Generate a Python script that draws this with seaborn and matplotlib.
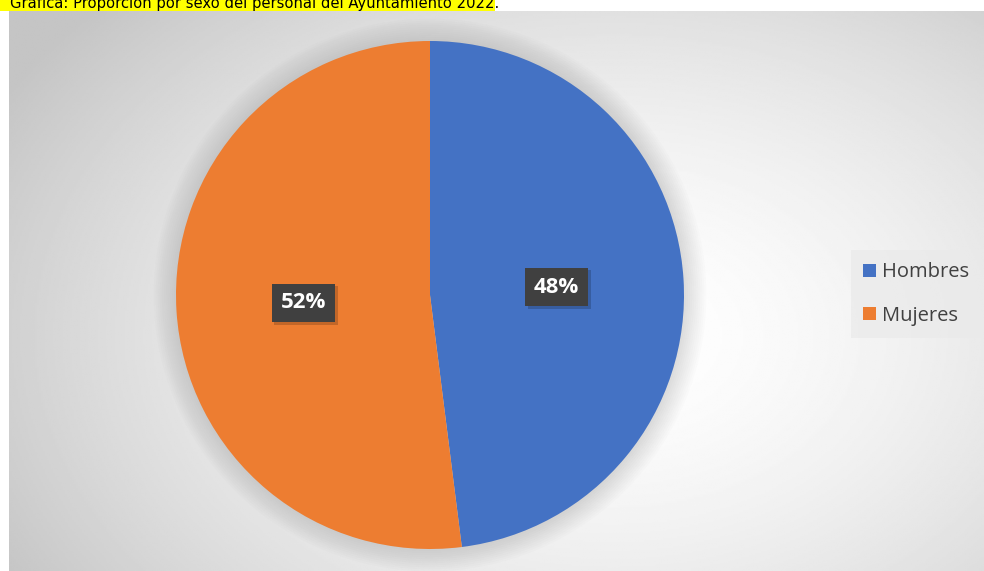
import matplotlib
matplotlib.use("Agg")
import matplotlib.pyplot as plt
from matplotlib.patches import Rectangle, Patch, Circle
import matplotlib.patheffects as pe
import numpy as np
import seaborn as sns

sns.set_style("white")
plt.rcParams["font.family"] = ["Open Sans", "DejaVu Sans"]

# datos
categorias = ["Hombres", "Mujeres"]
porcentajes = [48, 52]
colores = ["#4472C4", "#ED7D31"]
titulo = "Gráfica: Proporción por sexo del personal del Ayuntamiento 2022."

W, H = 984, 571
fig = plt.figure(figsize=(W / 100, H / 100), dpi=100)
fig.patch.set_facecolor("white")

# fondo con degradado radial
bg = fig.add_axes([9 / W, 0, (W - 9) / W, 560 / H])
yy, xx = np.mgrid[0:1:300j, 0:1:500j]
d = np.sqrt(((xx - 0.62) / 0.62) ** 2 + ((yy - 0.42) / 0.75) ** 2)
grad = np.clip(1.0 - 0.18 * d ** 1.6, 0.77, 1.0)
bg.imshow(grad, cmap="gray", vmin=0, vmax=1, aspect="auto", extent=[0, 1, 0, 1], origin="lower")
bg.set_axis_off()

# pastel
R = 254
lim = 1.12
cx, cy = 430, 571 - 295
ax = fig.add_axes([(cx - lim * R) / W, (cy - lim * R) / H, 2 * lim * R / W, 2 * lim * R / H])

# sombra difusa
for i in range(12):
    ax.add_patch(Circle((0, 0), 1.0 + 0.008 * i, color="#808080", alpha=0.025, lw=0, zorder=0))

wedges, texts, autotexts = ax.pie(
    porcentajes, colors=colores, startangle=90, counterclock=False,
    autopct=lambda p: f"{p:.0f}%", pctdistance=0.5, radius=1,
    wedgeprops=dict(linewidth=0),
)
ax.set_xlim(-lim, lim)
ax.set_ylim(-lim, lim)
ax.set_aspect("equal")
ax.set_axis_off()
for wd in wedges:
    wd.set_zorder(2)
for t in autotexts:
    t.set_color("white")
    t.set_fontsize(16)
    t.set_fontweight("bold")
    t.set_zorder(5)
    t.set_bbox(dict(boxstyle="square,pad=0.4", facecolor="#404040", edgecolor="none"))
    t.get_bbox_patch().set_path_effects([
        pe.SimplePatchShadow(offset=(2, -2), shadow_rgbFace="black", alpha=0.18), pe.Normal()])

# leyenda
handles = [Patch(facecolor=c, edgecolor="none", label=l) for c, l in zip(colores, categorias)]
leg = fig.legend(
    handles=handles, loc="center left", bbox_to_anchor=(851 / W, 1 - 294 / H),
    frameon=True, fontsize=14.5, handlelength=0.65, handleheight=0.65,
    handletextpad=0.3, labelspacing=1.15, borderpad=0.6, borderaxespad=0, fancybox=False,
)
leg.get_frame().set_facecolor("#eaeaea")
leg.get_frame().set_edgecolor("none")
leg.get_frame().set_alpha(0.7)
for t in leg.get_texts():
    t.set_color("#404040")

# titulo resaltado (cortado arriba)
fig.patches.append(Rectangle((0, 560 / H), 495 / W, 11 / H, transform=fig.transFigure,
                             facecolor="#FFFF00", edgecolor="none", zorder=1))
fig.text(10 / W, 563 / H, titulo, fontsize=10.6, family="DejaVu Sans", color="black",
         va="baseline", ha="left", zorder=2)

fig.savefig("out.png", dpi=100)
